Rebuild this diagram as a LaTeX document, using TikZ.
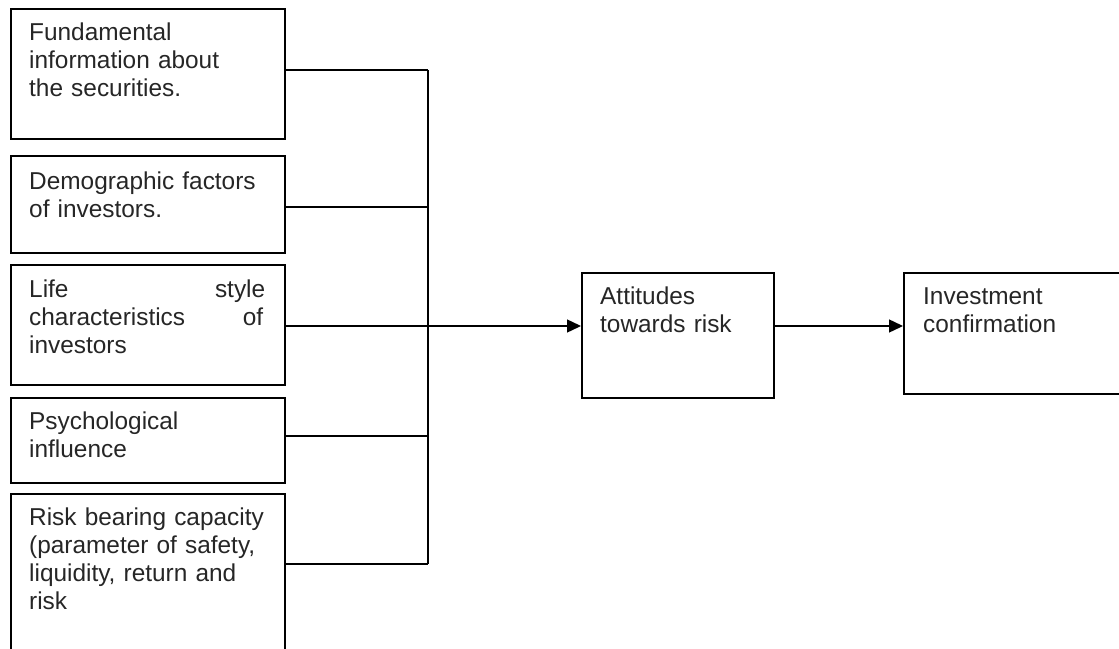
\documentclass[tikz,border=0pt]{standalone}
\usepackage{fontspec}
\setmainfont{Liberation Sans}
\usetikzlibrary{arrows.meta}
\begin{document}
\begin{tikzpicture}[x=1pt,y=-1pt,
  box/.style={draw, line width=1.6pt, rectangle, inner sep=0pt, anchor=north west},
  txt/.style={anchor=base west, inner sep=0pt, align=left, text width=#1,
    font=\fontsize{24.4}{28}\selectfont, text=black!85},
  wire/.style={line width=1.4pt},
  arr/.style={line width=1.4pt, -{Triangle[length=14pt,width=13pt]}}]
\clip (0,0) rectangle (1119,648);
% boxes
\node[box, minimum width=274pt, minimum height=130pt] (b1) at (10,8) {};
\node[box, minimum width=274pt, minimum height=97pt] (b2) at (10,155) {};
\node[box, minimum width=274pt, minimum height=120pt] (b3) at (10,264) {};
\node[box, minimum width=274pt, minimum height=85pt] (b4) at (10,397) {};
\node[box, minimum width=274pt, minimum height=180pt] (b5) at (10,493) {};
\node[box, minimum width=192pt, minimum height=125pt] (att) at (581,272) {};
\node[box, minimum width=240pt, minimum height=121pt] (inv) at (903,272) {};
% texts
\node[txt=250pt] (t1) at (29,40) {Fundamental\\information about\\the securities.};
\node[txt=250pt] (t2) at (29,189) {Demographic factors\\of investors.};
\node[txt=250pt] (t3) at (29,297) {\makebox[236pt][s]{Life\hfill style}\\\makebox[234pt][s]{characteristics\hfill of}\\investors};
\node[txt=250pt] (t4) at (29,429) {Psychological\\influence};
\node[txt=260pt] (t5) at (29,525) {Risk bearing capacity\\(parameter of safety,\\liquidity, return and\\risk};
\node[txt=170pt] (t6) at (600,304) {Attitudes\\towards risk};
\node[txt=200pt] (t7) at (923,304) {Investment\\confirmation};
% bus
\coordinate (j1) at (428,70);
\coordinate (j2) at (428,207);
\coordinate (j3) at (428,326);
\coordinate (j4) at (428,436);
\coordinate (j5) at (428,564);
\draw[wire] (b1.east |- j1) -- (j1);
\draw[wire] (b2.east |- j2) -- (j2);
\draw[wire] (b3.east |- j3) -- (j3);
\draw[wire] (b4.east |- j4) -- (j4);
\draw[wire] (b5.east |- j5) -- (j5);
\draw[wire] (j1) -- (j5);
\draw[arr] (j3) -- (att.west |- j3);
\draw[arr] (att.east |- j3) -- (inv.west |- j3);
\end{tikzpicture}
\end{document}
